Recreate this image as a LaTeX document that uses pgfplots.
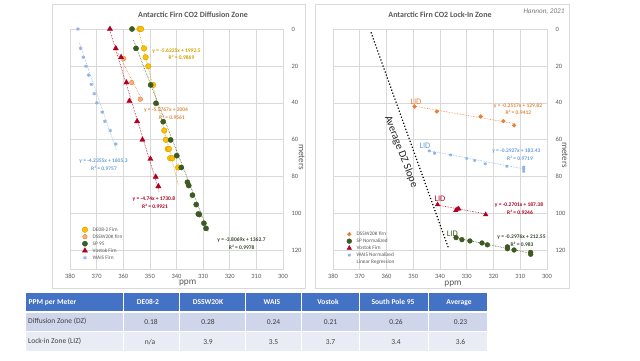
\documentclass[border=0pt]{standalone}
\usepackage{pgfplots}
\pgfplotsset{compat=1.18}
\usepackage{fontspec}
\setmainfont{Carlito}
\usetikzlibrary{plotmarks}
\definecolor{gold}{HTML}{FFC000}
\definecolor{goldd}{HTML}{D4A000}
\definecolor{goldtxt}{HTML}{CFA200}
\definecolor{orng}{HTML}{ED7D31}
\definecolor{orngl}{HTML}{F4B183}
\definecolor{orngtxt}{HTML}{E08A40}
\definecolor{spg}{HTML}{3D5A22}
\definecolor{sptxt}{HTML}{3B4A2A}
\definecolor{vred}{HTML}{B00020}
\definecolor{wais}{HTML}{8EB4E3}
\definecolor{waistxt}{HTML}{6A9FD6}
\definecolor{gridc}{HTML}{D9D9D9}
\definecolor{txtg}{HTML}{595959}
\definecolor{hdr}{HTML}{4472C4}
\definecolor{rowa}{HTML}{CFD5EA}
\definecolor{rowb}{HTML}{E9EBF5}
\pgfplotsset{firn/.style={scale only axis, width=213pt, height=240pt,
  x dir=reverse, y dir=reverse, xmin=300, xmax=380, ymin=0, ymax=130,
  xtick={300,310,...,380}, ytick={0,20,...,120}, grid=major,
  major grid style={gridc, line width=0.6pt},
  axis line style={gridc, line width=0.6pt},
  major tick length=0pt, yticklabel pos=right,
  tick label style={font=\fontsize{6.5}{7}\selectfont, text=txtg},
  yticklabel style={xshift=5pt},
  xticklabel style={yshift=-2pt},
  /pgf/number format/assume math mode=true,
  legend cell align=left,
  legend image code/.code={\draw[##1] plot coordinates {(0pt,0pt)};},
  legend style={draw=none, fill=none, anchor=north west, column sep=4pt,
    font=\fontsize{5.3}{6}\selectfont, text=txtg,
    nodes={text height=4pt, text depth=1pt, inner sep=1pt}},
}}
\begin{document}
\begin{tikzpicture}
\fill[white] (0,0) rectangle (640pt,-360pt);
\useasboundingbox (0,0) rectangle (640pt,-360pt);
\begin{scope}[x=1pt,y=-1pt]
\draw[gridc, fill=white, line width=0.6pt] (52,4) rectangle (305,288);
\draw[gridc, fill=white, line width=0.6pt] (315,4) rectangle (569,288);
\end{scope}
% ---------------- left axis
\begin{axis}[firn, at={(70pt,-269pt)}, anchor=south west,
  legend style={at={(axis description cs:0.042,0.1875)}}]
\addplot[only marks, mark=*, mark size=2.8pt, draw=goldd, fill=gold] coordinates {
(353.9,0) (353.3,0) (352.2,10.5) (351.6,15.3) (350.6,20.2) (348.8,30.3)
(344.6,55) (344.0,60) (343.3,65) (342.8,65) (342.4,70) (341.6,70) (339.4,75)};
\addlegendentry{DE08-2 Firn}
\addplot[only marks, mark=*, mark size=2.3pt, draw=orng, fill=orngl] coordinates {
(359.8,16) (356.8,29) (353.6,38)};
\addlegendentry{DSSW20K firn}
\addplot[only marks, mark=*, mark size=2.6pt, draw=spg, fill=spg] coordinates {
(356.7,0) (355.2,10.5) (349.7,30.3) (347.7,40.2) (345.0,50.2) (342.2,60.1)
(339.9,68.6) (338.2,75) (335.9,83) (335.4,84.8) (334.0,90) (332.6,95.1)
(331.8,100.2) (331.4,100.5) (329.7,105.2) (328.9,108)};
\addlegendentry{SP 95}
\addplot[only marks, mark=triangle*, mark size=3pt, draw=vred, fill=vred] coordinates {
(365.0,0) (362.8,10.5) (360.8,15.3) (358.8,29) (357.7,39) (354.8,50)
(352.8,60) (349.8,70.4) (347.8,80.1) (346.8,85.2)};
\addlegendentry{Vostok Firn}
\addplot[only marks, mark=asterisk, mark size=1.8pt, line width=0.8pt, draw=wais] coordinates {
(377.0,0) (376.0,10.5) (375.0,15.3) (374.0,20.2) (373.0,25) (372.0,30)
(370.9,35) (369.9,40) (367.9,45) (366.9,50) (364.9,55) (362.8,62.3)};
\addlegendentry{WAIS Firn}
% trendlines
\addplot[forget plot, draw=wais, densely dotted, line width=0.6pt] coordinates {(376.6,7) (362.5,66)};
\addplot[forget plot, draw=vred, densely dotted, line width=0.6pt] coordinates {(365.2,0) (346.5,88)};
\addplot[forget plot, draw=orng, densely dotted, line width=0.6pt] coordinates {(362,13) (352.7,39)};
\addplot[forget plot, draw=goldd, densely dotted, line width=0.6pt] coordinates {(354,2) (339.2,85)};
\addplot[forget plot, draw=spg, densely dotted, line width=0.6pt] coordinates {(356.2,6) (328,110)};
\end{axis}
% ---------------- right axis
\begin{axis}[firn, at={(333pt,-269pt)}, anchor=south west, width=214pt,
  yticklabel style={xshift=0pt},
  legend style={at={(axis description cs:0.05,0.169)}}]
\addplot[only marks, mark=*, mark size=1.9pt, draw=orng, fill=orng] coordinates {
(349.5,42) (341.2,44.7) (324.8,47.4) (316.3,49.9) (312.3,52.2)};
\addlegendentry{DSSW20K firn}
\addplot[only marks, mark=*, mark size=2.4pt, draw=spg, fill=spg] coordinates {
(334,113) (331.8,114.1) (328.8,114.8) (324.3,115.9) (322.3,116.9) (314.8,118)
(314.8,119) (312.3,119.7) (306.1,121) (306.1,122)};
\addlegendentry{SP Normalized}
\addplot[only marks, mark=triangle*, mark size=2.6pt, draw=vred, fill=vred] coordinates {
(340.9,95.1) (334.1,98.3) (333.6,97.6) (333.0,97.4) (322.9,100.5)};
\addlegendentry{Vostok Firn}
\addplot[only marks, mark=asterisk, mark size=1.6pt, line width=0.8pt, draw=wais] coordinates {
(344,66) (342,67.3) (336,68.2) (330,70.1) (327,71.2) (323.1,73) (315,74.3)
(308.7,74.8) (308.7,75.9) (308.7,77.1)};
\addlegendentry{WAIS Normalized}
\addlegendimage{empty legend}
\addlegendentry{Linear Regression}
\addplot[forget plot, draw=orng, densely dotted, line width=0.6pt] coordinates {(349.5,41.85) (312.3,51.2)};
\addplot[forget plot, draw=wais, densely dotted, line width=0.6pt] coordinates {(344.5,65.8) (308.5,75.8)};
\addplot[forget plot, draw=vred, densely dotted, line width=0.6pt] coordinates {(341,95.3) (322.9,100.2)};
\addplot[forget plot, draw=spg, densely dotted, line width=0.6pt] coordinates {(334,113.15) (306,121.5)};
\addplot[forget plot, draw=black, dotted, line width=1.2pt] coordinates {(365.8,1.8) (336.9,118.4)};
\end{axis}
% ---------------- texts
\begin{scope}[x=1pt,y=-1pt]
\node[font=\bfseries\fontsize{8}{9}\selectfont, text=txtg] at (193,14.7) {Antarctic Firn CO2 Diffusion Zone};
\node[font=\bfseries\fontsize{8}{9}\selectfont, text=txtg] at (440,14.7) {Antarctic Firn CO2 Lock-In Zone};
\node[font=\itshape\fontsize{7.2}{8}\selectfont, text=txtg!80] at (544,11.7) {Hannon, 2021};
\node[font=\fontsize{9.3}{10}\selectfont, text=txtg] at (187.7,283) {ppm};
\node[font=\fontsize{9.3}{10}\selectfont, text=txtg] at (453,284) {ppm};
\node[font=\fontsize{9}{10}\selectfont, text=txtg, rotate=-90] at (301.7,157) {meters};
\node[font=\fontsize{9}{10}\selectfont, text=txtg, rotate=-90] at (565,155) {meters};
% left trend labels
\tikzset{tl/.style={font=\bfseries\fontsize{5.5}{6}\selectfont, inner sep=0pt}}
\node[tl, text=goldtxt] at (176.5,50.7) {y = -5.6225x + 1992.5};
\node[tl, text=goldtxt] at (181.5,57.3) {R² = 0.9869};
\node[tl, text=orngtxt] at (166,110) {y = -5.5767x + 2004};
\node[tl, text=orngtxt] at (172,117.7) {R² = 0.9561};
\node[tl, text=waistxt] at (103.5,161) {y = -4.2355x + 1605.3};
\node[tl, text=waistxt] at (104,168.7) {R² = 0.9757};
\node[tl, text=vred] at (154,199) {y = -4.74x + 1730.8};
\node[tl, text=vred] at (155,206) {R² = 0.9921};
\node[tl, text=sptxt] at (241.5,239.7) {y = -3.8069x + 1362.7};
\node[tl, text=sptxt] at (241.7,247.3) {R² = 0.9978};
% right trend labels
\node[tl, text=orngtxt] at (518,106) {y = -0.2517x + 129.82};
\node[tl, text=orngtxt] at (518.3,112) {R² = 0.9412};
\node[tl, text=waistxt] at (516.3,151) {y = -0.2927x + 183.43};
\node[tl, text=waistxt] at (520,158.3) {R² = 0.9719};
\node[tl, text=vred] at (519,205) {y = -0.2701x + 187.38};
\node[tl, text=vred] at (520,212) {R² = 0.9246};
\node[tl, text=sptxt] at (521.5,237.3) {y = -0.2976x + 212.55};
\node[tl, text=sptxt] at (522,244.3) {R² = 0.983};
% LID labels
\tikzset{lid/.style={font=\fontsize{8.5}{9}\selectfont, inner sep=0pt}}
\node[lid, text=orng] at (416,101.7) {LID};
\node[lid, text=waistxt] at (425,146) {LID};
\node[lid, text=vred] at (440,199) {LID};
\node[lid, text=spg] at (452.3,233.7) {LID};
\node[font=\fontsize{10.8}{12}\selectfont, text=black!85, rotate=-69, inner sep=0pt] at (401,151.7) {Average DZ Slope};
% table
\fill[hdr] (26,293) rectangle (487,312);
\fill[rowa] (26,312) rectangle (487,331.5);
\fill[rowb] (26,331.5) rectangle (487,351);
\draw[white, line width=1.5pt] (26,312) -- (487,312);
\draw[white, line width=0.8pt] (26,331.5) -- (487,331.5);
\foreach \xx in {123.3,179,245,301.7,359,428.3} {\draw[white, line width=0.8pt] (\xx,293) -- (\xx,351);}
\tikzset{th/.style={font=\bfseries\fontsize{7.5}{8}\selectfont, text=white, inner sep=0pt},
         td/.style={font=\fontsize{7.5}{8}\selectfont, text=black!75, inner sep=0pt}}
\node[th, anchor=west] at (28.5,302.2) {PPM per Meter};
\node[th] at (148,302.2) {DE08-2};
\node[th] at (208,302.2) {DSSW20K};
\node[th] at (272,302.2) {WAIS};
\node[th] at (328,302.2) {Vostok};
\node[th] at (393,302.2) {South Pole 95};
\node[th] at (459,302.2) {Average};
\node[td, anchor=west] at (28,321.7) {Diffusion Zone (DZ)};
\node[td] at (151,321.7) {0.18};
\node[td] at (208,321.7) {0.28};
\node[td] at (273.5,321.7) {0.24};
\node[td] at (330.5,321.7) {0.21};
\node[td] at (396,321.7) {0.26};
\node[td] at (460.5,321.7) {0.23};
\node[td, anchor=west] at (28,341.7) {Lock-in Zone (LIZ)};
\node[td] at (150,341.7) {n/a};
\node[td] at (208,341.7) {3.9};
\node[td] at (273.5,341.7) {3.5};
\node[td] at (330.5,341.7) {3.7};
\node[td] at (396,341.7) {3.4};
\node[td] at (460.5,341.7) {3.6};
\end{scope}
\end{tikzpicture}
\end{document}
